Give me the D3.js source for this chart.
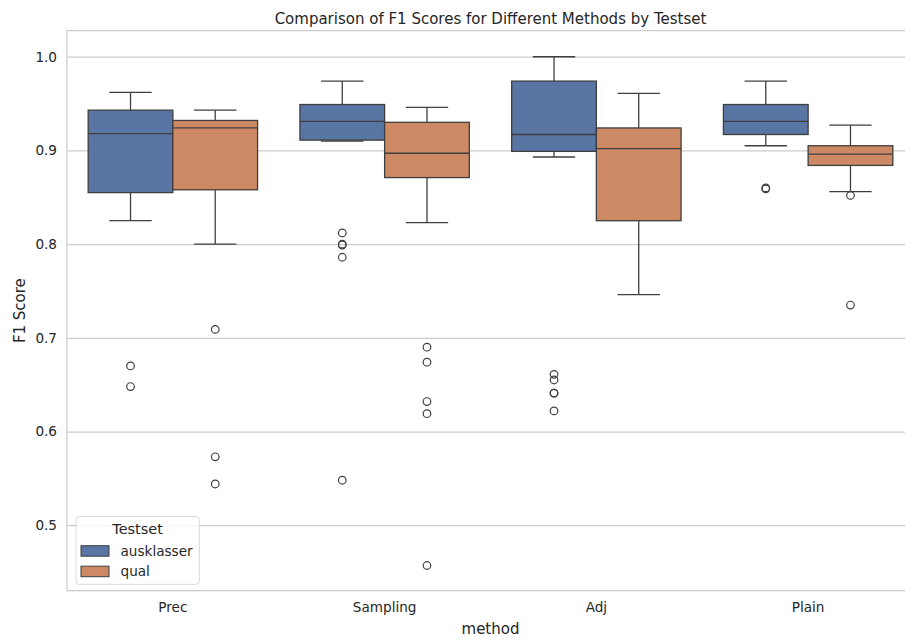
<!DOCTYPE html>
<html>
<head>
<meta charset="utf-8">
<script src="https://cdn.jsdelivr.net/npm/d3@7"></script>
<style>
  html, body { margin: 0; padding: 0; background: #ffffff; }
  svg { display: block; font-family: "DejaVu Sans", sans-serif; }
</style>
</head>
<body>
<svg id="chart" width="905" height="641"></svg>
<script>
// ---------------- data ----------------
const methods = ["Prec", "Sampling", "Adj", "Plain"];
const testsets = ["ausklasser", "qual"];
const yTicks = [0.5, 0.6, 0.7, 0.8, 0.9, 1.0];

// box statistics per method (order of `methods`)
const ausklasserWhiskerLow  = [0.825, 0.910, 0.893, 0.905];
const ausklasserQ1          = [0.855, 0.911, 0.899, 0.917];
const ausklasserMedian      = [0.918, 0.931, 0.917, 0.931];
const ausklasserQ3          = [0.943, 0.949, 0.974, 0.949];
const ausklasserWhiskerHigh = [0.962, 0.974, 1.000, 0.974];
const ausklasserOutliers    = [
  [0.670, 0.648],
  [0.812, 0.800, 0.799, 0.786, 0.548],
  [0.661, 0.655, 0.641, 0.641, 0.622],
  [0.860, 0.859]
];

const qualWhiskerLow  = [0.800, 0.823, 0.746, 0.856];
const qualQ1          = [0.858, 0.871, 0.825, 0.884];
const qualMedian      = [0.924, 0.897, 0.902, 0.896];
const qualQ3          = [0.932, 0.930, 0.924, 0.905];
const qualWhiskerHigh = [0.943, 0.946, 0.961, 0.927];
const qualOutliers    = [
  [0.709, 0.573, 0.544],
  [0.690, 0.674, 0.632, 0.619, 0.457],
  [],
  [0.852, 0.735]
];

const colors = ["#5875a4", "#cc8963"];

// ---------------- layout ----------------
const svg = d3.select("#chart");
const plotLeft = 67, plotRight = 914, plotTop = 30.6, plotBottom = 590.7;
const lineCol = "#3f3f3f";
const gridCol = "#cccccc";
const textCol = "#262626";

const x = d3.scaleBand().domain(methods).range([plotLeft, plotRight]).paddingInner(0).paddingOuter(0);
const xHue = d3.scaleBand().domain(testsets).range([x.bandwidth() * 0.1, x.bandwidth() * 0.9]).padding(0);
const y = d3.scaleLinear().domain([0.4301, 1.0279]).range([plotBottom, plotTop]);

// clip to plot
svg.append("defs").append("clipPath").attr("id", "plotclip")
  .append("rect").attr("x", plotLeft).attr("y", plotTop).attr("width", plotRight - plotLeft).attr("height", plotBottom - plotTop);

// gridlines via axis
const grid = svg.append("g").attr("transform", `translate(${plotLeft},0)`)
  .call(d3.axisLeft(y).tickValues(yTicks).tickSize(-(plotRight - plotLeft)).tickFormat(""));
grid.select(".domain").remove();
grid.selectAll("line").attr("stroke", gridCol).attr("stroke-width", 1.25);

// y tick labels
const yAxis = svg.append("g").attr("transform", `translate(${plotLeft},0)`)
  .call(d3.axisLeft(y).tickValues(yTicks).tickSize(0).tickPadding(10).tickFormat(d3.format(".1f")));
yAxis.select(".domain").remove();
yAxis.selectAll("text").attr("fill", textCol).style("font-size", "13.6px")
  .style("font-family", "DejaVu Sans, sans-serif");

// x tick labels
const xAxis = svg.append("g").attr("transform", `translate(0,${plotBottom})`)
  .call(d3.axisBottom(x).tickSize(0).tickPadding(12));
xAxis.select(".domain").remove();
xAxis.selectAll("text").attr("fill", textCol).style("font-size", "13.6px")
  .style("font-family", "DejaVu Sans, sans-serif");

// ---------------- boxes ----------------
const stats = [
  { name: "ausklasser", lo: ausklasserWhiskerLow, q1: ausklasserQ1, med: ausklasserMedian, q3: ausklasserQ3, hi: ausklasserWhiskerHigh, out: ausklasserOutliers },
  { name: "qual", lo: qualWhiskerLow, q1: qualQ1, med: qualMedian, q3: qualQ3, hi: qualWhiskerHigh, out: qualOutliers }
];

const plot = svg.append("g").attr("clip-path", "url(#plotclip)");
stats.forEach((s, si) => {
  methods.forEach((m, mi) => {
    const x0 = x(m) + xHue(s.name);
    const w = xHue.bandwidth();
    const cx = x0 + w / 2;
    const g = plot.append("g");
    // whiskers
    g.append("line").attr("x1", cx).attr("x2", cx).attr("y1", y(s.q3[mi])).attr("y2", y(s.hi[mi]))
      .attr("stroke", lineCol).attr("stroke-width", 1.3);
    g.append("line").attr("x1", cx).attr("x2", cx).attr("y1", y(s.q1[mi])).attr("y2", y(s.lo[mi]))
      .attr("stroke", lineCol).attr("stroke-width", 1.3);
    // caps
    [s.hi[mi], s.lo[mi]].forEach(v => {
      g.append("line").attr("x1", cx - w / 4).attr("x2", cx + w / 4).attr("y1", y(v)).attr("y2", y(v))
        .attr("stroke", lineCol).attr("stroke-width", 1.3);
    });
    // box
    g.append("rect").attr("x", x0).attr("width", w)
      .attr("y", y(s.q3[mi])).attr("height", y(s.q1[mi]) - y(s.q3[mi]))
      .attr("fill", colors[si]).attr("stroke", lineCol).attr("stroke-width", 1.3);
    // median
    g.append("line").attr("x1", x0).attr("x2", x0 + w).attr("y1", y(s.med[mi])).attr("y2", y(s.med[mi]))
      .attr("stroke", lineCol).attr("stroke-width", 1.3);
    // outliers
    g.selectAll("circle").data(s.out[mi]).enter().append("circle")
      .attr("cx", cx).attr("cy", d => y(d)).attr("r", 3.8)
      .attr("fill", "none").attr("stroke", lineCol).attr("stroke-width", 1.2);
  });
});

// spines
svg.append("rect").attr("x", plotLeft).attr("y", plotTop).attr("width", plotRight - plotLeft).attr("height", plotBottom - plotTop)
  .attr("fill", "none").attr("stroke", gridCol).attr("stroke-width", 1.25);

// ---------------- titles ----------------
svg.append("text").attr("x", (plotLeft + plotRight) / 2).attr("y", 23.5).attr("text-anchor", "middle")
  .attr("fill", textCol).style("font-size", "15px").text("Comparison of F1 Scores for Different Methods by Testset");
svg.append("text").attr("x", (plotLeft + plotRight) / 2).attr("y", 634).attr("text-anchor", "middle")
  .attr("fill", textCol).style("font-size", "15px").text("method");
svg.append("text").attr("transform", `translate(25,${(plotTop + plotBottom) / 2}) rotate(-90)`).attr("text-anchor", "middle")
  .attr("fill", textCol).style("font-size", "15px").text("F1 Score");

// ---------------- legend ----------------
const lg = svg.append("g");
lg.append("rect").attr("x", 76).attr("y", 516.5).attr("width", 123.3).attr("height", 67.8)
  .attr("rx", 3).attr("fill", "#ffffff").attr("fill-opacity", 0.8).attr("stroke", "#d9d9d9").attr("stroke-width", 1);
lg.append("text").attr("x", 137.6).attr("y", 534.3).attr("text-anchor", "middle")
  .attr("fill", textCol).style("font-size", "14.5px").text("Testset");
testsets.forEach((t, i) => {
  lg.append("rect").attr("x", 81).attr("y", 545.7 + i * 20.5).attr("width", 28).attr("height", 10.5)
    .attr("fill", colors[i]).attr("stroke", lineCol).attr("stroke-width", 1);
  lg.append("text").attr("x", 120.5).attr("y", 555.7 + i * 20.2)
    .attr("fill", textCol).style("font-size", "13.6px").text(t);
});
</script>
</body>
</html>
